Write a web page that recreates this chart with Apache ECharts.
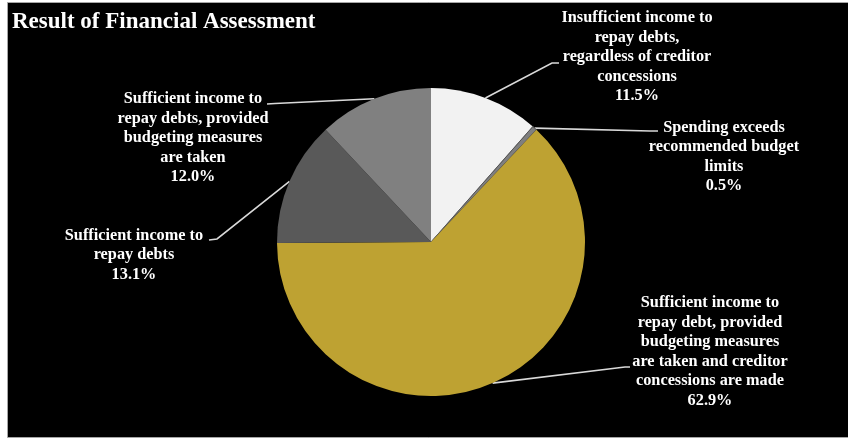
<!DOCTYPE html>
<html>
<head>
<meta charset="utf-8">
<script src="https://cdn.jsdelivr.net/npm/echarts@6/dist/echarts.min.js"></script>
<style>
  html, body { margin: 0; padding: 0; background: #ffffff; }
  #chart { width: 848px; height: 440px; }
</style>
</head>
<body>
<div id="chart"></div>
<script>
// Assessment outcomes, in clockwise order from 12 o'clock
const categories = [
  'Insufficient income to\nrepay debts,\nregardless of creditor\nconcessions',
  'Spending exceeds\nrecommended budget\nlimits',
  'Sufficient income to\nrepay debt, provided\nbudgeting measures\nare taken and creditor\nconcessions are made',
  'Sufficient income to\nrepay debts',
  'Sufficient income to\nrepay debts, provided\nbudgeting measures\nare taken'
];
const shares = [11.5, 0.5, 62.9, 13.1, 12.0];
const sliceColors = ['#f2f2f2', '#7f7f7f', '#bea232', '#595959', '#808080'];

// Label block centres, and where each leader line bends and ends
const labelSpots = [
  [637, 57],
  [724, 157],
  [710, 352],
  [134, 255],
  [193, 138]
];
const leaderEnds = [
  [[552, 63], [559, 63]],
  [[650, 131], [658, 131]],
  [[625, 367], [630, 367]],
  [[217, 239], [209, 240]],
  [[275, 103.5], [267, 104]]
];

const chart = echarts.init(document.getElementById('chart'), null, { renderer: 'canvas' });

chart.setOption({
  backgroundColor: '#ffffff',
  animation: false,
  title: {
    text: 'Result of Financial Assessment',
    left: 12,
    top: 11,
    padding: 0,
    textStyle: {
      color: '#ffffff',
      fontFamily: 'Liberation Serif',
      fontWeight: 'bold',
      fontSize: 23
    }
  },
  graphic: [{
    type: 'rect',
    z: -10,
    shape: { x: 7.5, y: 2.5, width: 850, height: 435 },
    style: { fill: '#000000', stroke: '#a6a6a6', lineWidth: 1 }
  }],
  series: [{
    type: 'pie',
    center: [431, 242],
    radius: [0, 154],
    startAngle: 90,
    clockwise: true,
    avoidLabelOverlap: false,
    data: categories.map((name, i) => ({
      name: name,
      value: shares[i],
      itemStyle: {
        color: sliceColors[i],
        borderColor: i === 1 ? '#555555' : sliceColors[i],
        borderWidth: i === 1 ? 1 : 0
      }
    })),
    label: {
      show: true,
      position: 'outside',
      formatter: p => p.name + '\n' + p.value.toFixed(1) + '%',
      color: '#ffffff',
      fontFamily: 'Liberation Serif',
      fontWeight: 'bold',
      fontSize: 16.3,
      lineHeight: 19.5,
      align: 'center'
    },
    labelLine: {
      show: true,
      length: 10,
      length2: 10,
      lineStyle: { color: '#d9d9d9', width: 1.6 }
    },
    labelLayout: p => {
      const i = p.dataIndex;
      const out = {
        x: labelSpots[i][0],
        y: labelSpots[i][1],
        align: 'center',
        verticalAlign: 'middle'
      };
      if (p.labelLinePoints) {
        out.labelLinePoints = [p.labelLinePoints[0]].concat(leaderEnds[i]);
      }
      return out;
    }
  }]
});
</script>
</body>
</html>
